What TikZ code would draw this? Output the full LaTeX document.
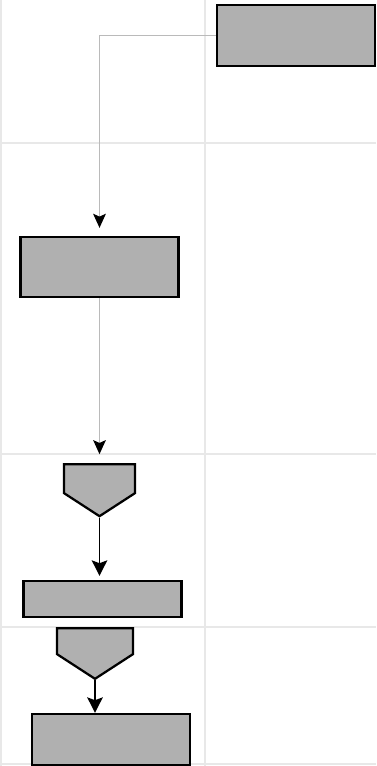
\documentclass[tikz,border=0pt]{standalone}
\usetikzlibrary{arrows.meta,positioning,shapes.symbols}
\begin{document}
\begin{tikzpicture}[
  x=0.025cm, y=-0.025cm, >=Stealth,
  blk/.style={draw=black, line width=1.6pt, fill=black!31, minimum width=3.95cm, inner sep=0pt},
  con/.style={signal, signal to=south, signal pointer angle=114, draw=black, line width=1.6pt, fill=black!31, inner sep=0pt, anchor=north},
  lane/.style={draw=black!9, line width=1.3pt},
  feed/.style={-{Stealth[black,length=10pt,width=9pt,inset=2pt]}, draw=black!27, line width=1.1pt},
  flow/.style={-{Stealth[length=11pt,width=11pt,inset=2pt]}, draw=black, line width=1.4pt}
]
  \useasboundingbox (0,0) rectangle (376,766);
  % swimlanes
  \draw[lane] (1,0) -- (1,766);
  \draw[lane] (205,0) -- (205,766);
  \draw[lane] (0,143) -- (376,143);
  \draw[lane] (0,454) -- (376,454);
  \draw[lane] (0,627) -- (376,627);
  \draw[lane] (0,764) -- (376,764);
  % steps
  \node[blk, minimum height=1.525cm] (src) at (296,35.5) {};
  \node[blk, minimum height=1.5cm] (taskA) at (99.5,267) {};
  \node[con, minimum width=1.775cm, minimum height=0.725cm] (conA) at (99.5,463) {};
  \node[blk, minimum height=0.9cm] (taskB) at (102.5,599) {};
  \node[con, minimum width=1.9cm, minimum height=0.65cm] (conB) at (95,627) {};
  \node[blk, minimum height=1.275cm] (taskC) at (111,739.5) {};
  % connectors
  \draw[feed, shorten >=0.2cm] (src.west) -| (taskA.north);
  \draw[feed, shorten >=0.22cm] (taskA.south) -- (conA.north);
  \draw[flow, shorten >=0.1cm] (conA.south) -- (conA.south |- taskB.north);
  \draw[flow] (conB.south) -- (conB.south |- taskC.north);
\end{tikzpicture}
\end{document}
